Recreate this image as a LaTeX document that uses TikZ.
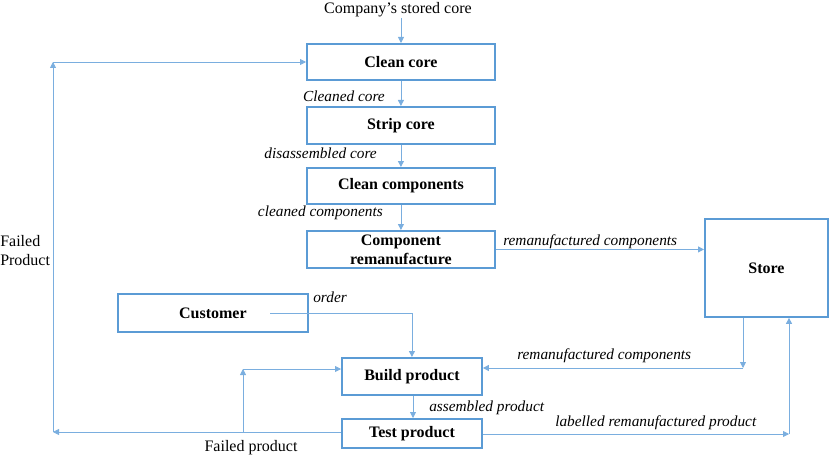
\documentclass[tikz,border=0pt]{standalone}
\usepackage{fontspec}
\setmainfont{Liberation Serif}
\usepackage{xcolor}
\definecolor{BoxBlue}{HTML}{5B9BD5}
\definecolor{LineBlue}{HTML}{7AAEDF}
\usetikzlibrary{arrows.meta,positioning,calc}

\begin{document}
\begin{tikzpicture}[x=0.75pt,y=-0.75pt,font=\rmfamily\fontsize{12}{14.25}\selectfont]
\tikzset{
  procbox/.style={draw=BoxBlue,line width=1.4pt,fill=white,anchor=north west,
    inner sep=0pt,align=center,font=\rmfamily\fontsize{12}{14.25}\selectfont\bfseries},
  flow/.style={draw=LineBlue,line width=.6pt,-{Triangle[width=4.5pt,length=4.5pt]}},
  flowlabel/.style={font=\rmfamily\fontsize{11.5}{13.5}\selectfont\itshape,inner sep=0pt}
}
\useasboundingbox (0,0) rectangle (832,460);

% Main process column
\node[procbox,minimum width=141pt,minimum height=27pt] (clean) at (306,43) {Clean core};
\node[procbox,minimum width=141pt,minimum height=27.75pt] (strip) at (306,106) {Strip core};
\node[procbox,minimum width=141pt,minimum height=27pt] (cleancomp) at (306,167) {Clean components};
\node[procbox,minimum width=141pt,minimum height=27.75pt] (comprem) at (306,230) {Component\\remanufacture};

% Assembly side
\node[procbox,minimum width=142.5pt,minimum height=28.5pt] (customer) at (117,293) {Customer};
\node[procbox,minimum width=105pt,minimum height=27.75pt] (build) at (341,357) {Build product};
\node[procbox,minimum width=105pt,minimum height=21.75pt] (test) at (341,418) {Test product};
\node[procbox,minimum width=92.25pt,minimum height=73.5pt] (store) at (704,218) {Store};

% Incoming core
\node[inner sep=0pt] (stored) at (398,10) {Company’s stored core};
\coordinate (src) at (401,18);
\draw[flow] (src) -- (src |- clean.north);

\draw[flow] (clean) -- (strip);
\draw[flow] (strip) -- (cleancomp);
\draw[flow] (cleancomp) -- (comprem);
\node[flowlabel,anchor=east] (lcleaned) at (385,96) {Cleaned core};
\node[flowlabel,anchor=east] (ldisass) at (377,153) {disassembled core};
\node[flowlabel,anchor=east] (lcomps) at (383,213) {cleaned components};

% To and from the store
\draw[flow] (comprem.east) -- (comprem.east -| store.west);
\node[flowlabel,anchor=base west] (lremup) at (503,245) {remanufactured components};

\coordinate (sb) at (743,368);
\draw[flow] (store.south -| sb) -- (sb);
\draw[flow] (sb) -- (sb -| build.east);
\node[flowlabel,anchor=base west] (lremlow) at (517,359) {remanufactured components};

\coordinate (ts) at (789,434);
\draw[flow] (test.east |- ts) -- (ts);
\draw[flow] (ts) -- (ts |- store.south);
\node[flowlabel,anchor=base west] (llab) at (555,426) {labelled remanufactured product};

% Customer order
\coordinate (ord) at (270,313);
\draw[flow] (ord) -| (build.north);
\node[flowlabel,anchor=base west] (lorder) at (313,302) {order};

\draw[flow] (build.south -| 413,0) -- (test.north -| 413,0);
\node[flowlabel,anchor=base west] (lassem) at (429,411) {assembled product};

% Failed product loops
\coordinate (fl) at (53,432);
\coordinate (fu) at (53,62);
\coordinate (fb) at (243,432);
\coordinate (fbt) at (243,369);
\draw[flow] (test.west |- fl) -- (fl);
\draw[flow] (fl) -- (fu);
\draw[flow] (fu) -- (fu -| clean.west);
\draw[flow] (fb) -- (fbt);
\draw[flow] (fbt) -- (fbt -| build.west);
\node[inner sep=0pt] (lfailed) at (251,448) {Failed product};
\node[inner sep=0pt,anchor=west,align=left] (lfailedl) at (0,251) {Failed\\Product};
\end{tikzpicture}
\end{document}
